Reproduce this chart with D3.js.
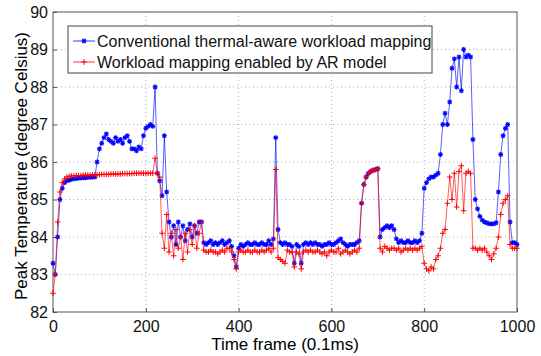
<!DOCTYPE html>
<html>
<head>
<meta charset="utf-8">
<script src="https://cdn.jsdelivr.net/npm/d3@7"></script>
<style>
  body { margin: 0; background: #fff; }
  text { font-family: "Liberation Sans", Arial, sans-serif; }
</style>
</head>
<body>
<div id="chart"></div>
<script>
// time frames, one every 5 units (0.1ms)
var timeFrames = d3.range(0, 1001, 5);

// conventional thermal-aware workload mapping
var conventional = [
  83.3, 83.0, 84.0, 85.0, 85.3, 85.45, 85.5, 85.52, 85.54, 85.55,
  85.56, 85.57, 85.57, 85.58, 85.58, 85.59, 85.59, 85.6, 85.6, 86.0,
  86.35, 86.5, 86.65, 86.75, 86.6, 86.55, 86.5, 86.65, 86.55, 86.6,
  86.5, 86.65, 86.7, 86.55, 86.35, 86.35, 86.3, 86.4, 86.35, 86.7,
  86.9, 86.95, 87.0, 86.95, 88.0, 85.7, 85.5, 85.1, 86.7, 85.2,
  84.4, 84.0, 84.3, 83.8, 84.4, 84.0, 84.3, 83.9, 84.2, 84.35,
  84.0, 84.3, 84.1, 84.4, 84.4, 83.85, 83.8, 83.85, 83.9, 83.8,
  83.85, 83.8, 83.85, 83.9, 83.8, 83.85, 83.9, 83.75, 83.5, 83.2,
  83.7, 83.8, 83.75, 83.8, 83.85, 83.8, 83.8, 83.85, 83.8, 83.8,
  83.85, 83.8, 83.8, 83.9, 83.8, 83.95, 86.65, 84.2, 83.85, 83.8,
  83.85, 83.8, 83.8, 83.75, 83.3, 83.8, 83.75, 83.3, 83.8, 83.85,
  83.8, 83.85, 83.8, 83.85, 83.8, 83.8, 83.75, 83.8, 83.8, 83.85,
  83.8, 83.8, 83.85, 83.9, 83.95, 83.85, 83.8, 83.75, 83.8, 83.8,
  83.8, 83.85, 83.9, 84.9, 85.4, 85.6, 85.7, 85.75, 85.78, 85.8,
  85.82, 84.0, 84.2, 84.25, 84.3, 84.25, 84.3, 84.2, 83.95, 83.85,
  83.9, 83.85, 83.85, 83.9, 83.85, 83.85, 83.9, 83.85, 83.9, 84.1,
  85.3, 85.45, 85.55, 85.6, 85.6, 85.65, 85.7, 86.2, 87.0, 87.3,
  87.0, 87.6, 88.5, 88.75, 88.0, 88.8, 87.9, 89.0, 88.8, 88.85,
  88.8, 86.6, 85.0, 84.75, 84.55, 84.45, 84.4, 84.38, 84.35, 84.35,
  84.35, 84.38, 85.2, 86.2, 86.7, 86.9, 87.0, 84.4, 83.85, 83.85,
  83.8
];

// workload mapping enabled by AR model
var arModel = [
  82.5, 83.0, 84.4, 85.2, 85.45, 85.55, 85.6, 85.62, 85.63, 85.63,
  85.64, 85.64, 85.64, 85.65, 85.65, 85.65, 85.65, 85.66, 85.66, 85.66,
  85.66, 85.67, 85.67, 85.67, 85.67, 85.68, 85.68, 85.68, 85.68, 85.68,
  85.69, 85.69, 85.69, 85.69, 85.69, 85.7, 85.7, 85.7, 85.7, 85.7,
  85.7, 85.7, 85.7, 85.7, 86.1, 85.7, 85.6, 84.1, 83.7, 84.6,
  83.6, 84.1, 83.5, 84.2, 83.7, 84.0, 83.4, 84.1, 83.6, 84.2,
  83.8, 84.3, 83.7, 84.1, 84.4, 83.65, 83.6, 83.6, 83.65, 83.6,
  83.6, 83.55, 83.6, 83.65, 83.6, 83.7, 83.7, 83.6, 83.4, 83.15,
  83.6, 83.65, 83.6, 83.6, 83.65, 83.6, 83.6, 83.65, 83.6, 83.6,
  83.65, 83.6, 83.65, 83.7, 83.6, 83.7, 85.8, 83.45, 83.4, 83.35,
  83.3, 83.65, 83.6, 83.6, 83.2, 83.6, 83.55, 83.15, 83.6, 83.65,
  83.6, 83.65, 83.6, 83.6, 83.65, 83.6, 83.55, 83.6, 83.5, 83.6,
  83.65, 83.6, 83.6, 83.7, 83.55, 83.6, 83.65, 83.6, 83.55, 83.6,
  83.65, 83.6, 83.7, 84.9, 85.4, 85.6, 85.7, 85.75, 85.78, 85.8,
  85.82, 83.7, 83.6, 83.75, 83.7, 83.65, 83.7, 83.7, 83.65, 83.7,
  83.6, 83.65, 83.7, 83.65, 83.7, 83.65, 83.7, 83.65, 83.7, 83.75,
  83.3, 83.15, 83.1, 83.2, 83.15, 83.4, 83.5, 83.7, 84.1, 84.2,
  84.9, 85.6, 85.0, 85.7, 84.8, 85.75, 85.9, 84.7, 85.7, 85.75,
  85.7, 83.7, 83.7, 83.65, 83.7, 83.65, 83.7, 83.6, 83.5, 83.4,
  83.55, 83.7, 84.0, 84.6, 84.9, 85.0, 85.1, 83.8, 83.7, 83.7,
  83.7
];

var xTicks = [0, 200, 400, 600, 800, 1000];
var yTicks = [82, 83, 84, 85, 86, 87, 88, 89, 90];
var seriesNames = ["Conventional thermal-aware workload mapping", "Workload mapping enabled by AR model"];
var seriesColors = ["#0000ff", "#ff0000"];

function init(){
  var W = 541, H = 356;
  var left = 53, top = 12, right = 517, bottom = 312;

  var svg = d3.select("#chart").append("svg")
    .attr("width", W).attr("height", H);

  var x = d3.scaleLinear().domain([0, 1000]).range([left, right]);
  var y = d3.scaleLinear().domain([82, 90]).range([bottom, top]);

  // dotted grid
  svg.append("g").selectAll("line.gx")
    .data(xTicks.slice(1, -1)).enter().append("line")
      .attr("x1", d => x(d)).attr("x2", d => x(d))
      .attr("y1", top).attr("y2", bottom)
      .attr("stroke", "#9a9a9a").attr("stroke-width", 0.8)
      .attr("stroke-dasharray", "1,3");
  svg.append("g").selectAll("line.gy")
    .data(yTicks.slice(1, -1)).enter().append("line")
      .attr("x1", left).attr("x2", right)
      .attr("y1", d => y(d)).attr("y2", d => y(d))
      .attr("stroke", "#9a9a9a").attr("stroke-width", 0.8)
      .attr("stroke-dasharray", "1,3");

  // axes (ticks inside like matlab)
  var xAxis = svg.append("g")
    .attr("transform", "translate(0," + bottom + ")")
    .call(d3.axisBottom(x).tickValues(xTicks).tickFormat(d3.format("d")).tickSize(-4).tickPadding(9));
  var yAxis = svg.append("g")
    .attr("transform", "translate(" + left + ",0)")
    .call(d3.axisLeft(y).tickValues(yTicks).tickSize(-4).tickPadding(5));
  [xAxis, yAxis].forEach(function(a){
    a.select(".domain").remove();
    a.selectAll("line").attr("stroke", "#555");
    a.selectAll("text").style("font-size", "16px").attr("fill", "#111");
  });

  // box
  svg.append("rect")
    .attr("x", left).attr("y", top)
    .attr("width", right - left).attr("height", bottom - top)
    .attr("fill", "none").attr("stroke", "#555").attr("stroke-width", 1);

  var line = d3.line()
    .x((d, i) => x(timeFrames[i]))
    .y(d => y(d));

  function star(g, cx, cy, c) {
    var r = 2.4;
    [[-r, 0, r, 0], [0, -r, 0, r], [-1.8, -1.8, 1.8, 1.8], [-1.8, 1.8, 1.8, -1.8]].forEach(function(s){
      g.append("line")
        .attr("x1", cx + s[0]).attr("y1", cy + s[1])
        .attr("x2", cx + s[2]).attr("y2", cy + s[3])
        .attr("stroke", c).attr("stroke-width", 1.2);
    });
  }
  function plus(g, cx, cy, c) {
    var r = 2.8;
    g.append("path")
      .attr("d", "M" + (cx - r) + "," + cy + "H" + (cx + r) + "M" + cx + "," + (cy - r) + "V" + (cy + r))
      .attr("stroke", c).attr("stroke-width", 1).attr("fill", "none");
  }

  var allSeries = [conventional, arModel];
  allSeries.forEach(function(vals, k){
    var g = svg.append("g");
    g.append("path")
      .datum(vals)
      .attr("d", line)
      .attr("fill", "none")
      .attr("stroke", seriesColors[k])
      .attr("stroke-width", 0.8)
      .attr("stroke-opacity", 0.8);
    vals.forEach(function(v, i){
      if (k == 0) star(g, x(timeFrames[i]), y(v), seriesColors[k]);
      else plus(g, x(timeFrames[i]), y(v), seriesColors[k]);
    });
  });

  // axis labels
  svg.append("text")
    .attr("x", (left + right) / 2).attr("y", 350)
    .attr("text-anchor", "middle")
    .style("font-size", "17px")
    .text("Time frame (0.1ms)");
  svg.append("text")
    .attr("transform", "rotate(-90)")
    .attr("x", -(top + bottom) / 2 - 4).attr("y", 27)
    .attr("text-anchor", "middle")
    .style("font-size", "17px")
    .text("Peak Temperature (degree Celsius)");

  // legend
  var lg = svg.append("g");
  lg.append("rect")
    .attr("x", 68).attr("y", 26).attr("width", 364).attr("height", 47)
    .attr("fill", "#fff").attr("stroke", "#444").attr("stroke-width", 1);
  seriesNames.forEach(function(name, k){
    var cy = 41 + k * 21;
    lg.append("line")
      .attr("x1", 73).attr("x2", 95).attr("y1", cy).attr("y2", cy)
      .attr("stroke", seriesColors[k]).attr("stroke-width", 0.8);
    if (k == 0) star(lg, 84, cy, seriesColors[k]);
    else plus(lg, 84, cy, seriesColors[k]);
    lg.append("text")
      .attr("x", 97).attr("y", cy + 5.5)
      .style("font-size", "16px")
      .attr("fill", "#111")
      .text(name);
  });
}
window.onload = init;
</script>
</body>
</html>
